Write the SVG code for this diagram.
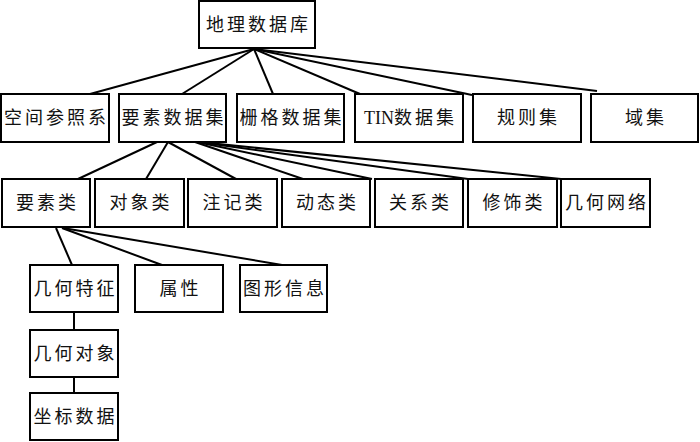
<svg xmlns="http://www.w3.org/2000/svg" width="700" height="442" viewBox="0 0 700 442">
<style>
rect{fill:#fff;stroke:#000;stroke-width:2}
text{font-family:"Liberation Serif","Noto Sans CJK SC",serif;font-size:18px;letter-spacing:3px;text-anchor:middle;dominant-baseline:central;fill:#111}
.lat{letter-spacing:0}
#connectors line{stroke:#000;stroke-width:2}
</style>
<rect x="0" y="0" width="700" height="442" style="stroke:none"/>
<g id="connectors">
<line x1="254" y1="49" x2="90" y2="94"/>
<line x1="254" y1="49" x2="182" y2="94"/>
<line x1="254" y1="49" x2="273" y2="94"/>
<line x1="254" y1="49" x2="360" y2="94"/>
<line x1="254" y1="49" x2="472" y2="95"/>
<line x1="254" y1="49" x2="597" y2="91"/>
<line x1="157" y1="142" x2="78" y2="179"/>
<line x1="168" y1="142" x2="146" y2="179"/>
<line x1="168" y1="142" x2="236" y2="179"/>
<line x1="195" y1="142" x2="303" y2="179"/>
<line x1="197" y1="142" x2="372" y2="179"/>
<line x1="198" y1="142" x2="468" y2="179"/>
<line x1="199" y1="142" x2="561" y2="179"/>
<line x1="56" y1="228" x2="72" y2="265"/>
<line x1="62" y1="228" x2="162" y2="265"/>
<line x1="63" y1="228" x2="282" y2="265"/>
<line x1="74" y1="312" x2="74" y2="330"/>
<line x1="74" y1="377" x2="74" y2="393"/>
</g>
<g id="n_root"><rect x="199" y="1" width="116" height="47"/><text x="258.5" y="25">地理数据库</text></g>
<g id="n_kongjian"><rect x="1" y="94" width="108" height="48"/><text x="56.5" y="118">空间参照系</text></g>
<g id="n_yaosushujuji"><rect x="119" y="94" width="107" height="48"/><text x="174" y="118">要素数据集</text></g>
<g id="n_shange"><rect x="237" y="94" width="107" height="48"/><text x="292" y="118">栅格数据集</text></g>
<g id="n_tin"><rect x="355" y="94" width="108" height="48"/><text x="410.5" y="118"><tspan class="lat">TIN</tspan>数据集</text></g>
<g id="n_guize"><rect x="473" y="94" width="108" height="48"/><text x="528.5" y="118">规则集</text></g>
<g id="n_yu"><rect x="591" y="94" width="107" height="48"/><text x="646" y="118">域集</text></g>
<g id="n_yaosulei"><rect x="2" y="179" width="88" height="48"/><text x="47.5" y="203">要素类</text></g>
<g id="n_duixiang"><rect x="95" y="179" width="89" height="48"/><text x="141" y="203">对象类</text></g>
<g id="n_zhuji"><rect x="188" y="179" width="89" height="48"/><text x="234" y="203">注记类</text></g>
<g id="n_dongtai"><rect x="282" y="179" width="88" height="48"/><text x="327.5" y="203">动态类</text></g>
<g id="n_guanxi"><rect x="375" y="179" width="88" height="48"/><text x="420.5" y="203">关系类</text></g>
<g id="n_xiushi"><rect x="468" y="179" width="89" height="48"/><text x="514" y="203">修饰类</text></g>
<g id="n_wangluo"><rect x="561" y="179" width="89" height="48"/><text x="607" y="203">几何网络</text></g>
<g id="n_tezheng"><rect x="30" y="265" width="88" height="47"/><text x="75.5" y="289">几何特征</text></g>
<g id="n_shuxing"><rect x="135" y="265" width="88" height="47"/><text x="180.5" y="289">属性</text></g>
<g id="n_tuxing"><rect x="240" y="265" width="87" height="47"/><text x="285" y="289">图形信息</text></g>
<g id="n_duixiang2"><rect x="30" y="330" width="88" height="47"/><text x="75.5" y="354">几何对象</text></g>
<g id="n_zuobiao"><rect x="30" y="393" width="88" height="47"/><text x="75.5" y="417">坐标数据</text></g>
</svg>
